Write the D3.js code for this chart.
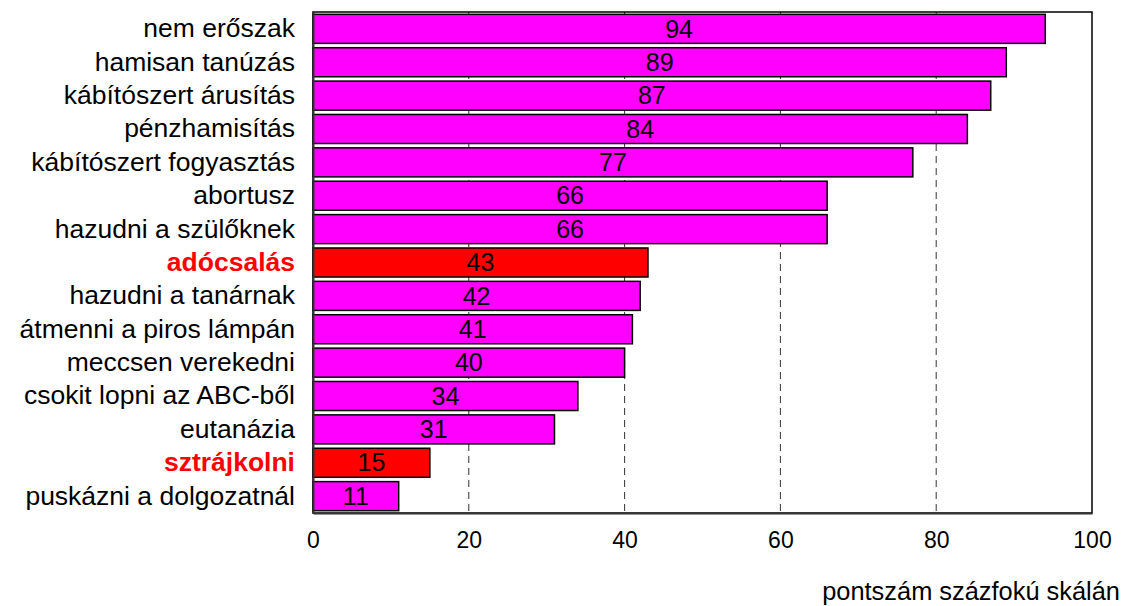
<!DOCTYPE html>
<html><head><meta charset="utf-8">
<script src="https://cdn.jsdelivr.net/npm/d3@7"></script>
<style>body{margin:0;background:#fff}svg{display:block}text{font-family:"Liberation Sans",Arial,sans-serif}</style>
</head><body><svg id="c" width="1122" height="606"></svg>
<script>
const categories = ["nem erőszak","hamisan tanúzás","kábítószert árusítás","pénzhamisítás","kábítószert fogyasztás","abortusz","hazudni a szülőknek","adócsalás","hazudni a tanárnak","átmenni a piros lámpán","meccsen verekedni","csokit lopni az ABC-ből","eutanázia","sztrájkolni","puskázni a dolgozatnál"];
const values = [94,89,87,84,77,66,66,43,42,41,40,34,31,15,11];
const highlighted = ["adócsalás","sztrájkolni"];
const xTicks = [0,20,40,60,80,100];
const axisTitle = "pontszám százfokú skálán";

const svg = d3.select("#c");
const L=313, R=1092, T=12, B=513;
const FF = "Liberation Sans, Arial, sans-serif";
const x = d3.scaleLinear().domain([0,100]).range([L,R]);
const y = d3.scaleBand().domain(categories).range([T,B]).paddingInner(0.13).paddingOuter(0.07);

// gridlines
svg.append("g").selectAll("line").data(xTicks.filter(d=>d>0&&d<100)).join("line")
  .attr("x1",d=>x(d)).attr("x2",d=>x(d)).attr("y1",T).attr("y2",B)
  .attr("stroke","#333").attr("stroke-width",1).attr("stroke-dasharray","7,5");

// frame
svg.append("rect").attr("x",L).attr("y",T).attr("width",R-L).attr("height",B-T)
  .attr("fill","none").attr("stroke","#000").attr("stroke-width",1.5);

// bars
svg.append("g").selectAll("rect").data(categories).join("rect")
  .attr("x",x(0)).attr("y",d=>y(d)).attr("width",(d,i)=>x(values[i])-x(0)).attr("height",y.bandwidth())
  .attr("fill",d=>highlighted.includes(d)?"#ff0000":"#ff00ff").attr("stroke","#000").attr("stroke-width",1.5);

// value labels
svg.append("g").selectAll("text").data(categories).join("text")
  .attr("x",(d,i)=>(x(0)+x(values[i]))/2).attr("y",d=>y(d)+y.bandwidth()/2+8.7)
  .attr("text-anchor","middle").attr("font-size",25).attr("fill","#000")
  .text((d,i)=>values[i]);

// axes
const xAxis = svg.append("g").attr("transform",`translate(0,${B})`)
  .call(d3.axisBottom(x).tickValues(xTicks).tickSize(0).tickPadding(19));
xAxis.select(".domain").attr("stroke","#333").attr("stroke-width",2);
xAxis.selectAll("text").attr("font-size",23).attr("fill","#000").attr("font-family",FF);

const yAxis = svg.append("g").attr("transform",`translate(${L},0)`)
  .call(d3.axisLeft(y).tickSize(0).tickPadding(18));
yAxis.select(".domain").attr("stroke","#333").attr("stroke-width",2);
yAxis.selectAll("text").attr("font-size",26.5).attr("font-family",FF)
  .attr("fill",d=>highlighted.includes(d)?"#ff0000":"#000")
  .attr("font-weight",d=>highlighted.includes(d)?"bold":"normal");

svg.append("text").attr("x",1120).attr("y",600).attr("text-anchor","end").attr("font-size",25.4).attr("fill","#000").text(axisTitle);
</script></body></html>
